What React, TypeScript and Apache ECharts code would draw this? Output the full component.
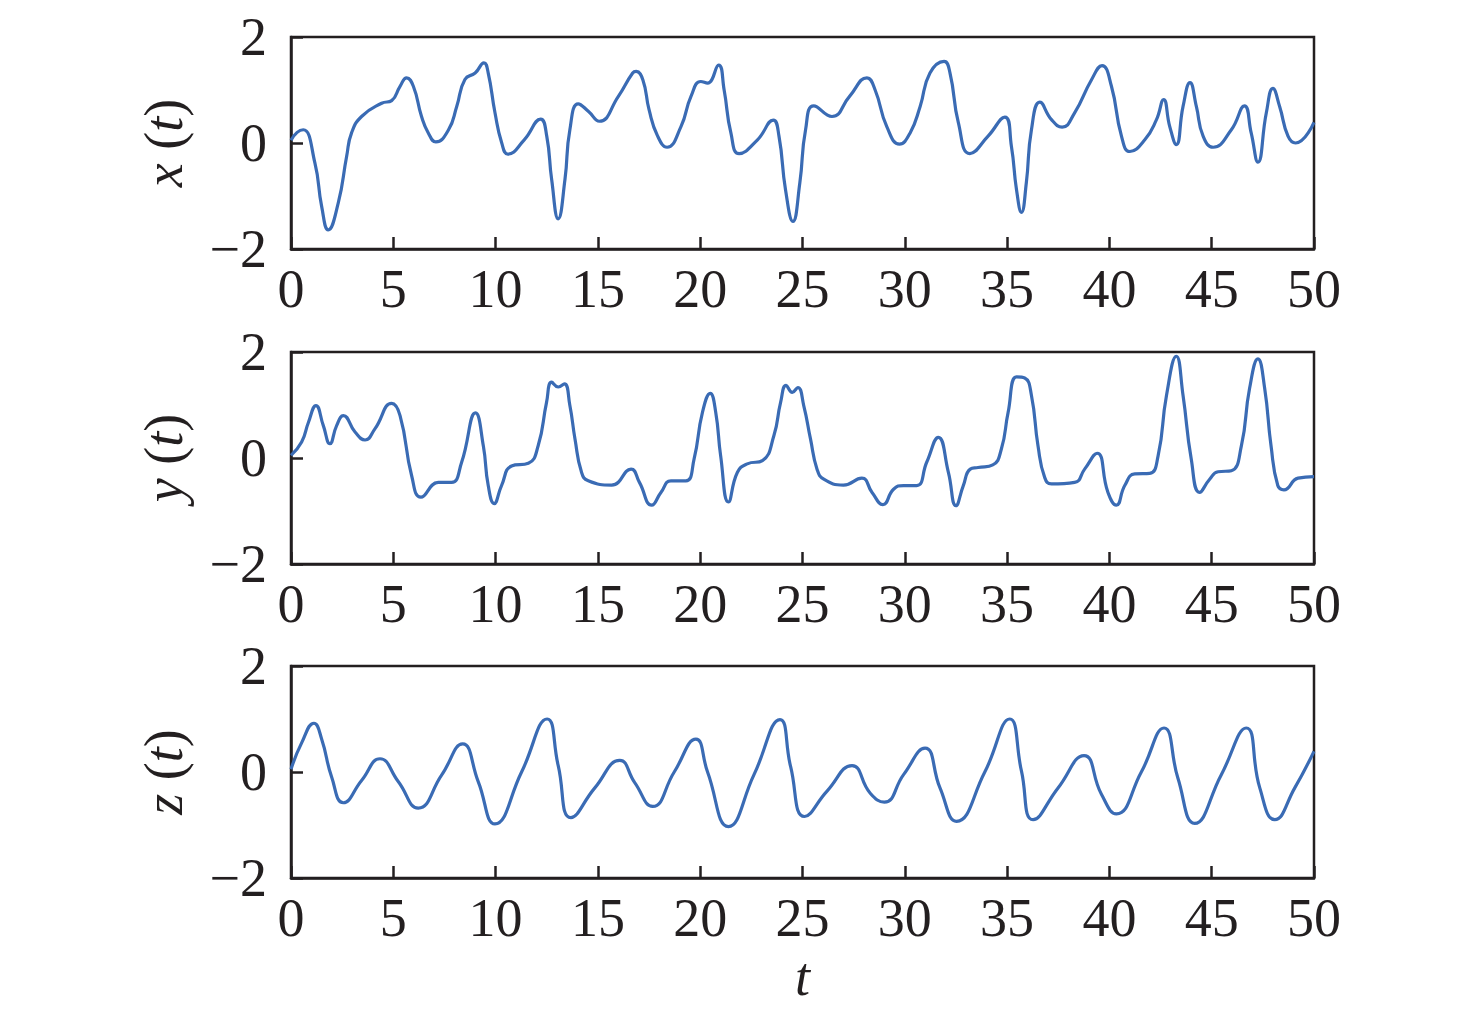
import React, { useEffect, useRef } from 'react';
import * as echarts from 'echarts';

// x(t)
const xT = [0, 0.3, 0.6, 1.17, 1.5, 1.82, 2.31, 2.72, 2.96, 3.45, 4.43, 4.92, 5.33, 5.65, 5.98, 6.38, 6.71, 7.08, 7.7, 8.1, 8.5, 9.0, 9.43, 9.64, 9.97, 10.3, 10.6, 11.4, 12.2, 12.5, 12.74, 13.06, 13.39, 13.63, 14.04, 14.53, 15.07, 16.0, 16.7, 16.87, 17.2, 17.5, 17.92, 18.38, 19.06, 19.55, 20.03, 20.36, 20.9, 21.17, 21.5, 21.9, 22.8, 23.57, 23.85, 24.17, 24.53, 24.87, 25.15, 25.55, 26.44, 27.3, 28.15, 28.55, 29.12, 29.74, 30.26, 30.75, 31.23, 31.92, 32.21, 32.62, 33.18, 34.07, 34.89, 35.21, 35.46, 35.7, 35.94, 36.19, 36.6, 37.17, 37.69, 38.3, 39.12, 39.64, 40.1, 40.59, 41.0, 41.73, 42.3, 42.65, 42.95, 43.27, 43.6, 43.94, 44.25, 44.58, 45.07, 45.96, 46.6, 46.93, 47.26, 47.67, 47.99, 48.32, 48.73, 49.1, 50];
const xV = [0.05, 0.2, 0.25, -0.38, -1.2, -1.64, -1.13, -0.25, 0.19, 0.5, 0.75, 0.8, 1.07, 1.23, 1.07, 0.5, 0.19, 0.02, 0.25, 0.69, 1.2, 1.32, 1.51, 1.32, 0.57, 0.0, -0.21, 0.06, 0.45, 0.13, -0.69, -1.43, -0.69, 0.25, 0.74, 0.6, 0.41, 0.88, 1.32, 1.35, 1.19, 0.63, 0.13, -0.08, 0.31, 0.88, 1.16, 1.13, 1.47, 1.0, 0.19, -0.2, 0.06, 0.43, 0.13, -0.88, -1.48, -0.75, 0.25, 0.7, 0.5, 0.88, 1.23, 1.0, 0.31, -0.02, 0.19, 0.69, 1.32, 1.54, 1.32, 0.38, -0.2, 0.13, 0.49, -0.06, -0.88, -1.31, -0.75, 0.25, 0.77, 0.44, 0.3, 0.57, 1.19, 1.46, 1.07, 0.13, -0.16, 0.06, 0.44, 0.82, 0.31, -0.03, 0.69, 1.14, 0.69, 0.13, -0.08, 0.25, 0.7, 0.19, -0.36, 0.57, 1.03, 0.69, 0.13, 0.0, 0.39];

// y(t)
const yT = [0, 0.52, 0.85, 1.22, 1.58, 1.9, 2.23, 2.56, 3.13, 3.62, 4.1, 4.92, 5.33, 5.9, 6.35, 7.2, 7.85, 8.34, 9.02, 9.4, 9.64, 9.93, 10.29, 10.78, 11.6, 12.08, 12.49, 12.74, 13.06, 13.36, 13.63, 13.88, 14.2, 14.53, 15.67, 16.62, 17.03, 17.63, 18.08, 18.57, 19.3, 19.7, 20.11, 20.49, 20.76, 21.0, 21.38, 21.82, 22.3, 23.04, 23.6, 23.93, 24.2, 24.5, 24.77, 25.06, 25.39, 25.71, 26.04, 27.0, 27.9, 28.4, 28.93, 29.45, 29.94, 30.58, 31.07, 31.64, 32.13, 32.5, 32.86, 33.2, 33.58, 34.3, 34.72, 35.05, 35.46, 35.86, 36.19, 36.51, 36.84, 37.17, 38.3, 38.79, 39.4, 39.93, 40.34, 40.75, 41.24, 41.97, 42.38, 42.79, 43.27, 43.6, 44.0, 44.41, 44.9, 45.31, 45.96, 46.45, 46.85, 47.26, 47.59, 47.9, 48.23, 48.53, 49.22, 50];
const yV = [0.05, 0.3, 0.67, 0.99, 0.61, 0.27, 0.61, 0.8, 0.49, 0.34, 0.55, 1.03, 0.8, -0.34, -0.74, -0.46, -0.46, -0.08, 0.85, 0.23, -0.52, -0.86, -0.52, -0.15, -0.1, 0.23, 1.05, 1.43, 1.34, 1.4, 0.99, 0.36, -0.27, -0.43, -0.51, -0.21, -0.46, -0.89, -0.65, -0.43, -0.43, -0.02, 0.86, 1.22, 0.86, 0.04, -0.83, -0.27, -0.11, -0.05, 0.42, 1.05, 1.37, 1.24, 1.33, 0.99, 0.36, -0.21, -0.4, -0.51, -0.38, -0.65, -0.88, -0.59, -0.52, -0.52, -0.08, 0.39, -0.27, -0.9, -0.52, -0.21, -0.18, -0.13, 0.17, 0.86, 1.53, 1.51, 1.18, 0.23, -0.37, -0.49, -0.46, -0.21, 0.09, -0.65, -0.89, -0.52, -0.3, -0.29, 0.04, 1.18, 1.92, 1.18, -0.02, -0.65, -0.4, -0.26, -0.24, 0.23, 1.31, 1.87, 1.31, 0.23, -0.52, -0.6, -0.38, -0.35];

// z(t)
const zT = [0, 0.52, 1.12, 1.5, 1.99, 2.56, 3.45, 4.35, 5.24, 6.22, 7.36, 8.39, 9.15, 9.97, 11.27, 12.52, 13.06, 13.68, 14.85, 16.07, 16.8, 17.68, 18.73, 19.79, 20.36, 21.38, 22.63, 23.9, 24.42, 25.1, 26.2, 27.42, 28.31, 29.0, 29.94, 30.99, 31.72, 32.53, 33.91, 35.13, 35.7, 36.27, 37.49, 38.76, 39.61, 40.34, 41.56, 42.67, 43.35, 44.17, 45.47, 46.69, 47.35, 48.08, 49.06, 50];
const zV = [0.05, 0.55, 0.92, 0.62, -0.1, -0.58, -0.16, 0.25, -0.18, -0.68, -0.06, 0.53, -0.18, -0.98, 0.0, 1.0, 0.12, -0.86, -0.3, 0.22, -0.2, -0.65, 0.0, 0.62, 0.0, -1.03, -0.05, 0.99, 0.1, -0.84, -0.36, 0.12, -0.4, -0.57, -0.05, 0.45, -0.3, -0.93, 0.0, 1.0, 0.02, -0.9, -0.3, 0.31, -0.42, -0.79, 0.0, 0.83, -0.12, -0.97, -0.05, 0.83, -0.3, -0.9, -0.3, 0.39];

const T_MIN = 0;
const T_MAX = 50;
const T_STEP = 5;
const V_MIN = -2;
const V_MAX = 2;
const V_STEP = 2;
const PANEL_NAMES = ['x', 'y', 'z'];
const X_AXIS_NAME = 't';

const FONT = '"Times New Roman", "Liberation Serif", Times, serif';
const INK = '#231f20';
const LINE = '#3a6bb4';
const FS = 54;

export default function App() {
  const ref = useRef<HTMLDivElement>(null);
  useEffect(() => {
    document.body.style.margin = '0';
    const chart = echarts.init(ref.current as HTMLDivElement, null, { renderer: 'svg' });
    const tops = [37, 352, 666];
    const data = [
      [xT, xV],
      [yT, yV],
      [zT, zV],
    ];
    chart.setOption({
      animation: false,
      backgroundColor: '#ffffff',
      grid: tops.map((top) => ({
        left: 291,
        top,
        width: 1023,
        height: 212,
        show: true,
        borderColor: INK,
        borderWidth: 2.5,
        backgroundColor: 'transparent',
      })),
      xAxis: tops.map((_, i) => ({
        gridIndex: i,
        type: 'value',
        min: T_MIN,
        max: T_MAX,
        interval: T_STEP,
        axisLine: { onZero: false, lineStyle: { color: INK, width: 2.5 } },
        axisTick: { inside: true, length: 12, lineStyle: { color: INK, width: 2.5 } },
        axisLabel: { color: INK, fontFamily: FONT, fontSize: FS, margin: 13 },
        splitLine: { show: false },
        name: i === 2 ? X_AXIS_NAME : '',
        nameLocation: 'middle',
        nameGap: 72,
        nameTextStyle: { fontFamily: FONT, fontStyle: 'italic', fontSize: FS, color: INK },
      })),
      yAxis: tops.map((_, i) => ({
        gridIndex: i,
        type: 'value',
        min: V_MIN,
        max: V_MAX,
        interval: V_STEP,
        axisLine: { onZero: false, lineStyle: { color: INK, width: 2.5 } },
        axisTick: { inside: true, length: 12, lineStyle: { color: INK, width: 2.5 } },
        axisLabel: {
          color: INK,
          fontFamily: FONT,
          fontSize: FS,
          margin: 24,
          formatter: (v: number) => (v < 0 ? '\u2212' + Math.abs(v) : String(v)),
        },
        splitLine: { show: false },
        name: `{i|${PANEL_NAMES[i]}} ({i|t})`,
        nameLocation: 'middle',
        nameRotate: 90,
        nameGap: 100,
        nameTextStyle: {
          fontFamily: FONT,
          fontSize: FS,
          color: INK,
          rich: { i: { fontFamily: FONT, fontStyle: 'italic', fontSize: FS, color: INK } },
        },
      })),
      series: data.map(([ts, vs], i) => ({
        type: 'line',
        xAxisIndex: i,
        yAxisIndex: i,
        data: ts.map((t, k) => [t, vs[k]]),
        showSymbol: false,
        smooth: 0.5,
        lineStyle: { color: LINE, width: 3.2 },
      })),
    });
    return () => chart.dispose();
  }, []);
  return <div ref={ref} style={{ width: 1476, height: 1016 }} />;
}
